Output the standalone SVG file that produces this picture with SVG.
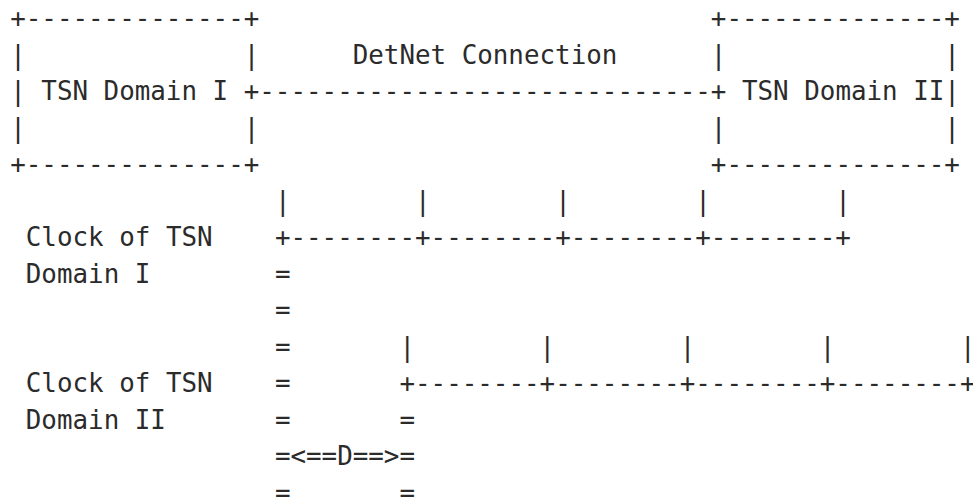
<svg xmlns="http://www.w3.org/2000/svg" width="973" height="503" viewBox="0 0 973 503">
<style>
text{font-family:"DejaVu Sans Mono","Liberation Mono",monospace;font-size:25.86px;fill:#2b2b2b;white-space:pre}
</style>
<rect width="973" height="503" fill="#ffffff"/>
<g id="tsn-domain-1">
<text x="10.2" y="27" xml:space="preserve">+--------------+</text>
<text x="10.2" y="63.5" xml:space="preserve">|              |</text>
<text x="10.2" y="100" xml:space="preserve">| TSN Domain I +</text>
<text x="10.2" y="136.5" xml:space="preserve">|              |</text>
<text x="10.2" y="173" xml:space="preserve">+--------------+</text>
</g>
<g id="tsn-domain-2">
<text x="710.85" y="27" xml:space="preserve">+--------------+</text>
<text x="710.85" y="63.5" xml:space="preserve">|              |</text>
<text x="710.85" y="100" xml:space="preserve">+ TSN Domain II|</text>
<text x="710.85" y="136.5" xml:space="preserve">|              |</text>
<text x="710.85" y="173" xml:space="preserve">+--------------+</text>
</g>
<g id="connectors">
<text x="259.3" y="100" xml:space="preserve">-----------------------------</text>
<text x="274.9" y="209.5" xml:space="preserve">|        |        |        |        |</text>
<text x="274.9" y="246" xml:space="preserve">+--------+--------+--------+--------+</text>
<text x="274.9" y="282.5">=</text>
<text x="274.9" y="319">=</text>
<text x="274.9" y="355.5" xml:space="preserve">=       |        |        |        |        |</text>
<text x="274.9" y="392" xml:space="preserve">=       +--------+--------+--------+--------+</text>
<text x="274.9" y="428.5" xml:space="preserve">=       =</text>
<text x="274.9" y="465" xml:space="preserve">=&lt;==D==&gt;=</text>
<text x="274.9" y="501.5" xml:space="preserve">=       =</text>
</g>
<g id="label-detnet">
<text x="352.7" y="63.5">DetNet Connection</text>
</g>
<g id="label-clock-1">
<text x="25.8" y="246">Clock of TSN</text>
<text x="25.8" y="282.5">Domain I</text>
</g>
<g id="label-clock-2">
<text x="25.8" y="392">Clock of TSN</text>
<text x="25.8" y="428.5">Domain II</text>
</g>
</svg>
